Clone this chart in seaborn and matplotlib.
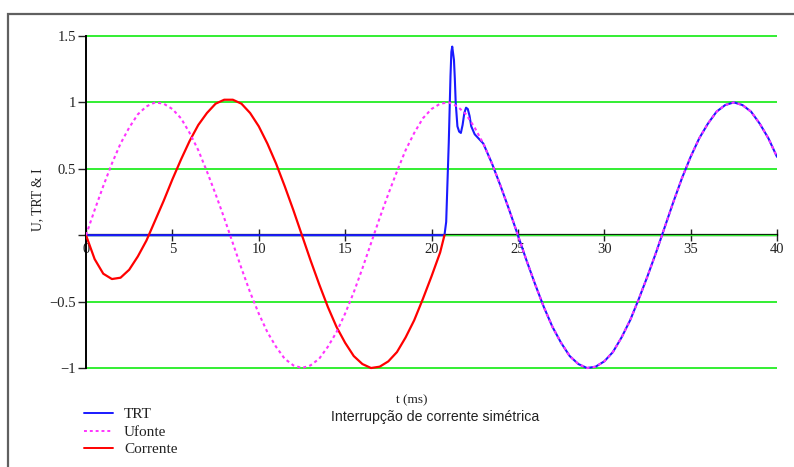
import numpy as np
import pandas as pd
import matplotlib
matplotlib.use("Agg")
import matplotlib.pyplot as plt
import seaborn as sns
from matplotlib.patches import Rectangle
from matplotlib.lines import Line2D

# --- data (t in ms) ---
t_ufonte = np.arange(0, 40.5, 0.5)
ufonte = [0.00, 0.19, 0.37, 0.54, 0.69, 0.81, 0.91, 0.97, 1.00, 0.99, 0.95, 0.88, 0.77, 0.64, 0.48, 0.31, 0.13,
          -0.06, -0.25, -0.43, -0.59, -0.73, -0.84, -0.93, -0.98, -1.00, -0.98, -0.93, -0.84, -0.73, -0.59, -0.43, -0.25, -0.06,
          0.13, 0.31, 0.48, 0.64, 0.77, 0.88, 0.95, 0.99, 1.00, 0.97, 0.91, 0.81, 0.69, 0.54, 0.37, 0.19, 0.00,
          -0.19, -0.37, -0.54, -0.69, -0.81, -0.91, -0.97, -1.00, -0.99, -0.95, -0.88, -0.77, -0.64, -0.48, -0.31, -0.13,
          0.06, 0.25, 0.43, 0.59, 0.73, 0.84, 0.93, 0.98, 1.00, 0.98, 0.93, 0.84, 0.73, 0.59]

t_corrente = list(np.arange(0, 21.0, 0.5)) + [20.75]
corrente = [0.00, -0.18, -0.29, -0.33, -0.32, -0.26, -0.16, -0.04, 0.11, 0.26, 0.42, 0.57, 0.71, 0.83, 0.92, 0.99, 1.02,
            1.02, 0.99, 0.92, 0.82, 0.69, 0.54, 0.37, 0.19, 0.00,
            -0.19, -0.37, -0.54, -0.69, -0.81, -0.91, -0.97, -1.00, -0.99, -0.95, -0.88, -0.77, -0.64, -0.48, -0.31, -0.13,
            0.00]

t_trt = [0, 20.75, 20.85, 20.95, 21.0, 21.05, 21.1, 21.15, 21.2, 21.3, 21.35, 21.4, 21.5, 21.6, 21.7, 21.8, 21.9,
         22.0, 22.1, 22.2, 22.3, 22.5, 23.0, 23.5] + list(np.arange(24, 40.5, 0.5))
trt = [0.00, 0.00, 0.10, 0.50, 0.70, 0.95, 1.20, 1.38, 1.42, 1.32, 1.18, 1.00, 0.82, 0.78, 0.77, 0.83, 0.92,
       0.96, 0.95, 0.90, 0.82, 0.76, 0.69, 0.54,
       0.37, 0.19, 0.00, -0.19, -0.37, -0.54, -0.69, -0.81, -0.91, -0.97, -1.00, -0.99, -0.95, -0.88, -0.77, -0.64,
       -0.48, -0.31, -0.13, 0.06, 0.25, 0.43, 0.59, 0.73, 0.84, 0.93, 0.98, 1.00, 0.98, 0.93, 0.84, 0.73, 0.59]

x_ticks = [0, 5, 10, 15, 20, 25, 30, 35, 40]
y_ticks = [-1, -0.5, 0, 0.5, 1, 1.5]
y_ticklabels = ["\u22121", "\u22120.5", "", "0.5", "1", "1.5"]

sns.set_style("white")
plt.rcParams['font.family'] = ['Liberation Serif', 'DejaVu Serif']

fig = plt.figure(figsize=(7.94, 4.67), dpi=100)
ax = fig.add_axes([86 / 794, 1 - 372 / 467, (777 - 86) / 794, (372 - 32) / 467])

blue = '#1a1aff'
magenta = '#ff33ff'
red = '#ff0000'
green = '#33ee33'

df_trt = pd.DataFrame({'t': t_trt, 'v': trt})
df_cor = pd.DataFrame({'t': t_corrente, 'v': corrente})
df_uf = pd.DataFrame({'t': t_ufonte, 'v': ufonte})

sns.lineplot(data=df_trt, x='t', y='v', ax=ax, color=blue, lw=1.5, sort=False, estimator=None, zorder=3)
sns.lineplot(data=df_cor, x='t', y='v', ax=ax, color=red, lw=1.6, sort=False, estimator=None, zorder=3)
sns.lineplot(data=df_uf, x='t', y='v', ax=ax, color=magenta, lw=1.5, sort=False, estimator=None, zorder=4,
             linestyle=(0, (1.5, 1.5)))

ax.set_xlim(0, 40)
ax.set_ylim(-1.03, 1.53)
ax.set_xlabel('')
ax.set_ylabel('')

# axes in Mathcad style: y axis at left, x axis through zero
for s in ['top', 'right']:
    ax.spines[s].set_visible(False)
ax.spines['bottom'].set_position(('data', 0))
ax.spines['bottom'].set_color('black')
ax.spines['bottom'].set_linewidth(1.6)
ax.spines['left'].set_color('black')
ax.spines['left'].set_linewidth(1.4)
ax.spines['left'].set_bounds(-1, 1.5)

ax.set_xticks(x_ticks)
ax.set_xticklabels([str(v) for v in x_ticks])
ax.set_yticks(y_ticks)
ax.set_yticklabels(y_ticklabels)
ax.tick_params(axis='x', bottom=True, direction='inout', length=8, width=1, pad=1.5, labelsize=10.5,
               colors='#222222')
ax.tick_params(axis='y', left=True, direction='out', length=6, width=1, pad=1, labelsize=10.5, colors='#222222')

ax.grid(axis='y', color=green, lw=1.4)
ax.grid(axis='x', visible=False)
ax.axhline(0, color=green, lw=1.0, zorder=2.6)

fig.text(38 / 794, 1 - 200 / 467, 'U, TRT & I', rotation=90, ha='center', va='center', fontsize=9.8, color='#222222')
fig.text(412 / 794, 1 - 400 / 467, 't (ms)', ha='center', va='center', fontsize=9.5, color='#222222')
fig.text(435 / 794, 1 - 417 / 467, 'Interrupção de corrente simétrica', ha='center', va='center',
         fontsize=10.2, family=['Liberation Sans', 'DejaVu Sans'], color='#222222')

handles = [Line2D([], [], color=blue, lw=1.4),
           Line2D([], [], color=magenta, lw=1.4, linestyle=(0, (1.5, 1.5))),
           Line2D([], [], color=red, lw=1.4)]
fig.legend(handles, ['TRT', 'Ufonte', 'Corrente'], loc='center left', bbox_to_anchor=(76 / 794, 1 - 432 / 467),
           frameon=False, borderpad=0, handlelength=1.9, handletextpad=0.75, labelspacing=0.25, fontsize=11,
           labelcolor='#222222')

fig.add_artist(Rectangle((8 / 794, -0.1), 1.2, (1 - 14 / 467) + 0.1, transform=fig.transFigure,
                         fill=False, ec='#606060', lw=1.6))

fig.savefig('out.png', dpi=100)
